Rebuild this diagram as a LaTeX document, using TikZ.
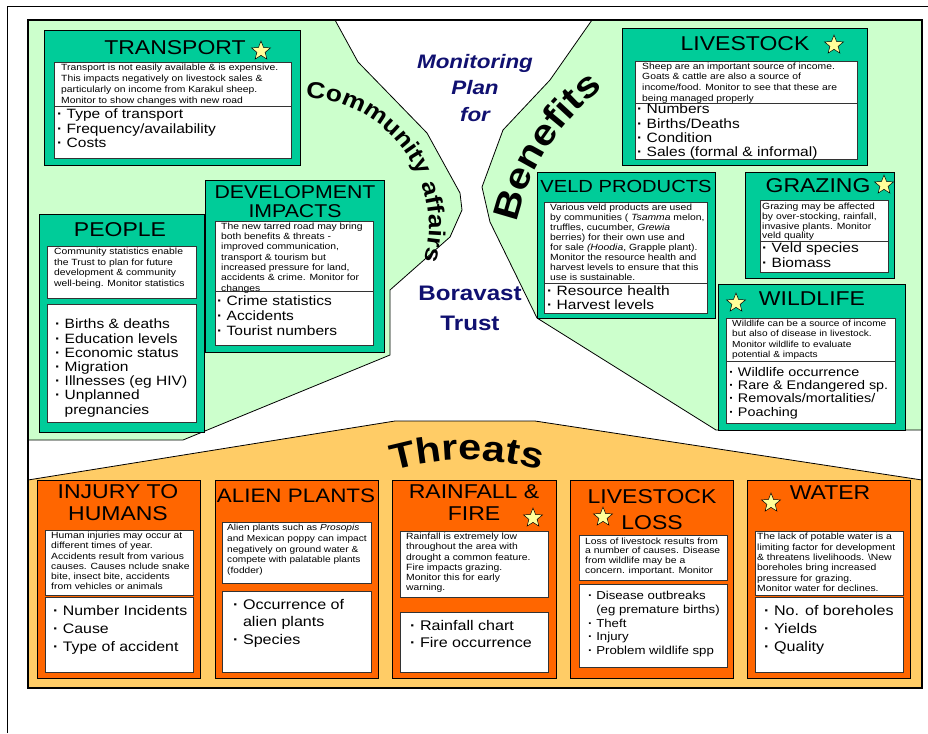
\documentclass[tikz,border=0pt]{standalone}
\usepackage{fontspec}
\setmainfont[FakeStretch=1.15]{Liberation Sans}
\usepackage{tikz}
\usetikzlibrary{shapes.geometric,decorations.text}

\definecolor{meadow}{HTML}{CCFFCC}
\definecolor{tealbox}{HTML}{00CC99}
\definecolor{sand}{HTML}{FFCC66}
\definecolor{flame}{HTML}{FF6600}
\definecolor{starfill}{HTML}{FFFF99}
\definecolor{navy}{RGB}{16,16,112}

\newcommand{\dotitem}{{\bfseries ·} }

\begin{document}
\begin{tikzpicture}[x=1pt, y=-1pt,
    region/.style={draw=black, line width=0.8pt},
    benefit box/.style={draw=black, line width=1.2pt, fill=tealbox, anchor=north west, inner sep=0},
    threat box/.style={draw=black, line width=1.2pt, fill=flame, anchor=north west, inner sep=0},
    white box/.style={draw=black!80, line width=0.9pt, fill=white, anchor=north west, inner sep=0},
    heading/.style={font=\fontsize{20}{22}\selectfont, inner sep=0, align=center},
    note/.style={font=\fontsize{9}{10.3}\selectfont, anchor=north west, inner sep=0, align=left},
    items/.style={font=\fontsize{13.5}{14.3}\selectfont, anchor=north west, inner sep=0, align=left},
    star mark/.style={star, star points=5, star point ratio=2.3, draw=black, fill=starfill,
                      minimum size=20, inner sep=0, line width=0.5pt},
    centre text/.style={text=navy, inner sep=0, align=center}]

  \useasboundingbox (0,0) rectangle (928,733);
  \fill[white] (0,0) rectangle (928,733);

  % page border
  \draw[line width=1pt] (7,733) -- (7,7) -- (928,7);

  % the three areas
  \filldraw[region, fill=meadow] (28,20) -- (335,20) -- (358,62) -- (427,133) -- (460,193) -- (462,210)
    -- (450,237) -- (390,290) -- (390,355) -- (183,440) -- (28,440) -- cycle;
  \filldraw[region, fill=meadow] (592,20) -- (922,20) -- (922,430) -- (716,430) -- (537,318)
    -- (490,222) -- (482,187) -- (503,130) -- (550,80) -- cycle;
  \filldraw[region, fill=sand] (28,480) -- (395,421) -- (535,421) -- (922,480) -- (922,688)
    -- (28,688) -- cycle;
  \draw[line width=1.6pt] (28,20) rectangle (922,688);

  % centre
  \node[centre text, font=\fontsize{19.5}{26.5}\selectfont\bfseries\itshape] (monitor) at (475,88)
    {Monitoring\\Plan\\for};
  \node[centre text, font=\fontsize{21}{30}\selectfont\bfseries] (trust) at (470,308)
    {Boravast\\Trust};

  \path[decorate, decoration={text along path, text align=center,
      text={|\fontsize{23}{23}\selectfont\bfseries|Community affairs}}]
    ([shift={(-100:128)}]301,226) arc[start angle=-100, end angle=28, radius=128];
  \path[decorate, decoration={text along path, text align=center,
      text={|\fontsize{36}{36}\selectfont\bfseries|Benefits}}]
    ([shift={(-172:230)}]741,273) arc[start angle=-172, end angle=-122, radius=230];
  \path[decorate, decoration={text along path, text align=center,
      text={|\fontsize{36}{36}\selectfont\bfseries|Threats}}]
    ([shift={(-115:265)}]467,725) arc[start angle=-115, end angle=-65, radius=265];

  % community affairs
  \node[benefit box, minimum width=256, minimum height=135] (transport) at (44,30) {};
  \node[white box, minimum width=237, minimum height=44] (transportnote) at (54,62) {};
  \node[white box, minimum width=237, minimum height=52] (transportlist) at (54,106) {};
  \node[heading] (transporttitle) at (175,48) {TRANSPORT};
  \node[star mark] (transportstar) at (261,51) {};
  \node[note, font=\fontsize{9}{11}\selectfont] (transporttext) at (61,64)
    {Transport is not easily available \& is expensive.\\This impacts negatively on livestock sales \&\\particularly on income from Karakul sheep.\\Monitor to show changes with new road};
  \node[items, font=\fontsize{13.5}{14.5}\selectfont] (transportitems) at (57,109)
    {\dotitem Type of transport\\\dotitem Frequency/availability\\\dotitem Costs};

  \node[benefit box, minimum width=165, minimum height=218] (people) at (39,214) {};
  \node[white box, minimum width=149, minimum height=52] (peoplenote) at (47,246) {};
  \node[white box, minimum width=149, minimum height=118] (peoplelist) at (47,304) {};
  \node[heading] (peopletitle) at (120,230) {PEOPLE};
  \node[note, font=\fontsize{9}{10.6}\selectfont] (peopletext) at (54,248)
    {Community statistics enable\\the Trust to plan for future\\development \& community\\well-being. Monitor statistics};
  \node[items, font=\fontsize{13.5}{14.2}\selectfont] (peopleitems) at (55,319)
    {\dotitem Births \& deaths\\\dotitem Education levels\\\dotitem Economic status\\\dotitem Migration\\\dotitem Illnesses (eg HIV)\\\dotitem Unplanned\\\hphantom{\dotitem}pregnancies};

  \node[benefit box, minimum width=179, minimum height=172] (develop) at (205,180) {};
  \node[white box, minimum width=158, minimum height=70] (developnote) at (215,221) {};
  \node[white box, minimum width=158, minimum height=54] (developlist) at (215,291) {};
  \node[heading, font=\fontsize{18.5}{19}\selectfont] (developtitle) at (295,202) {DEVELOPMENT\\IMPACTS};
  \node[note] (developtext) at (221,222.5)
    {The new tarred road may bring\\both benefits \& threats -\\improved communication,\\transport \& tourism but\\increased pressure for land,\\accidents \& crime. Monitor for\\changes};
  \node[items, font=\fontsize{13.5}{15}\selectfont] (developitems) at (217,296)
    {\dotitem Crime statistics\\\dotitem Accidents\\\dotitem Tourist numbers};

  % benefits
  \node[benefit box, minimum width=245, minimum height=137] (livestock) at (622,28) {};
  \node[white box, minimum width=222, minimum height=42] (livestocknote) at (635,61) {};
  \node[white box, minimum width=222, minimum height=56] (livestocklist) at (635,103) {};
  \node[heading] (livestocktitle) at (745,44) {LIVESTOCK};
  \node[star mark] (livestockstar) at (834,45) {};
  \node[note, font=\fontsize{9}{10.7}\selectfont] (livestocktext) at (642,62.5)
    {Sheep are an important source of income.\\Goats \& cattle are also a source of\\income/food.  Monitor to see that these are\\being managed properly};
  \node[items] (livestockitems) at (637,104)
    {\dotitem Numbers\\\dotitem Births/Deaths\\\dotitem Condition\\\dotitem Sales (formal \& informal)};

  \node[benefit box, minimum width=178, minimum height=146] (veld) at (537,172) {};
  \node[white box, minimum width=163, minimum height=81] (veldnote) at (544,202) {};
  \node[white box, minimum width=163, minimum height=30] (veldlist) at (544,283) {};
  \node[heading, font=\fontsize{17.5}{20}\selectfont] (veldtitle) at (626,186) {VELD PRODUCTS};
  \node[note, font=\fontsize{9}{10.1}\selectfont] (veldtext) at (550,203.5)
    {Various veld products are used\\by communities ( \textit{Tsamma} melon,\\truffles, cucumber, \textit{Grewia}\\berries) for their own use and\\for sale \textit{(Hoodia}, Grapple plant).\\Monitor the resource health and\\harvest levels to ensure that this\\use is sustainable.};
  \node[items, font=\fontsize{13.5}{14}\selectfont] (velditems) at (547,286)
    {\dotitem Resource health\\\dotitem Harvest levels};

  \node[benefit box, minimum width=149, minimum height=106] (grazing) at (745,172) {};
  \node[white box, minimum width=128, minimum height=41] (grazingnote) at (760,200) {};
  \node[white box, minimum width=128, minimum height=31] (grazinglist) at (760,241) {};
  \node[heading] (grazingtitle) at (818,186) {GRAZING};
  \node[star mark] (grazingstar) at (884,185) {};
  \node[note, font=\fontsize{9}{9.7}\selectfont] (grazingtext) at (762,203)
    {Grazing may be affected\\by over-stocking, rainfall,\\invasive plants.  Monitor\\veld quality};
  \node[items, font=\fontsize{13.5}{15}\selectfont] (grazingitems) at (762,243)
    {\dotitem Veld species\\\dotitem Biomass};

  \node[benefit box, minimum width=187, minimum height=146] (wildlife) at (718,284) {};
  \node[white box, minimum width=169, minimum height=43] (wildlifenote) at (726,318) {};
  \node[white box, minimum width=169, minimum height=62] (wildlifelist) at (726,361) {};
  \node[heading] (wildlifetitle) at (812,299) {WILDLIFE};
  \node[star mark] (wildlifestar) at (736,303) {};
  \node[note, font=\fontsize{8.8}{10.3}\selectfont] (wildlifetext) at (732,320)
    {Wildlife can be a source of income\\but also of disease in livestock.\\Monitor wildlife to evaluate\\potential \& impacts};
  \node[items, font=\fontsize{12.5}{13.3}\selectfont] (wildlifeitems) at (729,367)
    {\dotitem Wildlife occurrence\\\dotitem Rare \& Endangered sp.\\\dotitem Removals/mortalities/\\\dotitem Poaching};

  % threats
  \node[threat box, minimum width=163, minimum height=198] (injury) at (37,480) {};
  \node[white box, minimum width=148, minimum height=65] (injurynote) at (45,530) {};
  \node[white box, minimum width=148, minimum height=75] (injurylist) at (45,597) {};
  \node[heading] (injurytitle) at (118,503) {INJURY TO\\HUMANS};
  \node[note, font=\fontsize{9}{10.2}\selectfont] (injurytext) at (51,532)
    {Human injuries may occur at\\different times of year.\\Accidents result from various\\causes.  Causes nclude snake\\bite, insect bite, accidents\\from vehicles or animals};
  \node[items, font=\fontsize{13.8}{18}\selectfont] (injuryitems) at (53,605)
    {\dotitem Number Incidents\\\dotitem Cause\\\dotitem Type of accident};

  \node[threat box, minimum width=163, minimum height=198] (alien) at (215,480) {};
  \node[white box, minimum width=149, minimum height=61] (aliennote) at (222,522) {};
  \node[white box, minimum width=149, minimum height=81] (alienlist) at (222,591) {};
  \node[heading, font=\fontsize{19.5}{22}\selectfont] (alientitle) at (296,496) {ALIEN PLANTS};
  \node[note, font=\fontsize{8.8}{10.75}\selectfont] (alientext) at (227,524)
    {Alien plants such as \textit{Prosopis}\\and Mexican poppy can impact\\negatively on ground water \&\\compete with palatable plants\\(fodder)};
  \node[items, font=\fontsize{14}{17.5}\selectfont] (alienitems) at (233,599)
    {\dotitem Occurrence of\\\hphantom{\dotitem}alien plants\\\dotitem Species};

  \node[threat box, minimum width=164, minimum height=198] (rainfall) at (392,480) {};
  \node[white box, minimum width=148, minimum height=66] (rainfallnote) at (400,531) {};
  \node[white box, minimum width=148, minimum height=60] (rainfalllist) at (400,612) {};
  \node[heading] (rainfalltitle) at (474,503) {RAINFALL \&\\FIRE};
  \node[star mark] (rainfallstar) at (533,518) {};
  \node[note, font=\fontsize{9}{10.2}\selectfont] (rainfalltext) at (406,533)
    {Rainfall is extremely low\\throughout the area with\\drought a common feature.\\Fire impacts grazing.\\Monitor this for early\\warning.};
  \node[items, font=\fontsize{14}{17}\selectfont] (rainfallitems) at (410,620)
    {\dotitem Rainfall chart\\\dotitem Fire occurrence};

  \node[threat box, minimum width=163, minimum height=198] (loss) at (570,480) {};
  \node[white box, minimum width=148, minimum height=45] (lossnote) at (579,535) {};
  \node[white box, minimum width=148, minimum height=83] (losslist) at (579,584) {};
  \node[heading, font=\fontsize{20}{26}\selectfont] (losstitle) at (652,510) {LIVESTOCK\\LOSS};
  \node[star mark] (lossstar) at (603,517) {};
  \node[note, font=\fontsize{9}{9.6}\selectfont] (losstext) at (585,537.5)
    {Loss of livestock results from\\a  number of causes.  Disease\\from wildlife may be a\\concern. important.  Monitor};
  \node[items, font=\fontsize{11.5}{13.75}\selectfont] (lossitems) at (588,591)
    {\dotitem Disease outbreaks\\\hphantom{\dotitem}(eg premature births)\\\dotitem Theft\\\dotitem Injury\\\dotitem Problem wildlife spp};

  \node[threat box, minimum width=163, minimum height=198] (water) at (747,480) {};
  \node[white box, minimum width=148, minimum height=64] (waternote) at (755,531) {};
  \node[white box, minimum width=148, minimum height=75] (waterlist) at (755,597) {};
  \node[heading] (watertitle) at (830,493) {WATER};
  \node[star mark] (waterstar) at (771,503) {};
  \node[note, font=\fontsize{9}{10.4}\selectfont] (watertext) at (757,533)
    {The lack of  potable water is a\\limiting factor for development\\\& threatens livelihoods.  \textbackslash New\\boreholes bring increased\\pressure for grazing.\\Monitor water for declines.};
  \node[items, font=\fontsize{14}{18}\selectfont] (wateritems) at (764,605)
    {\dotitem No. of boreholes\\\dotitem Yields\\\dotitem Quality};

\end{tikzpicture}
\end{document}
